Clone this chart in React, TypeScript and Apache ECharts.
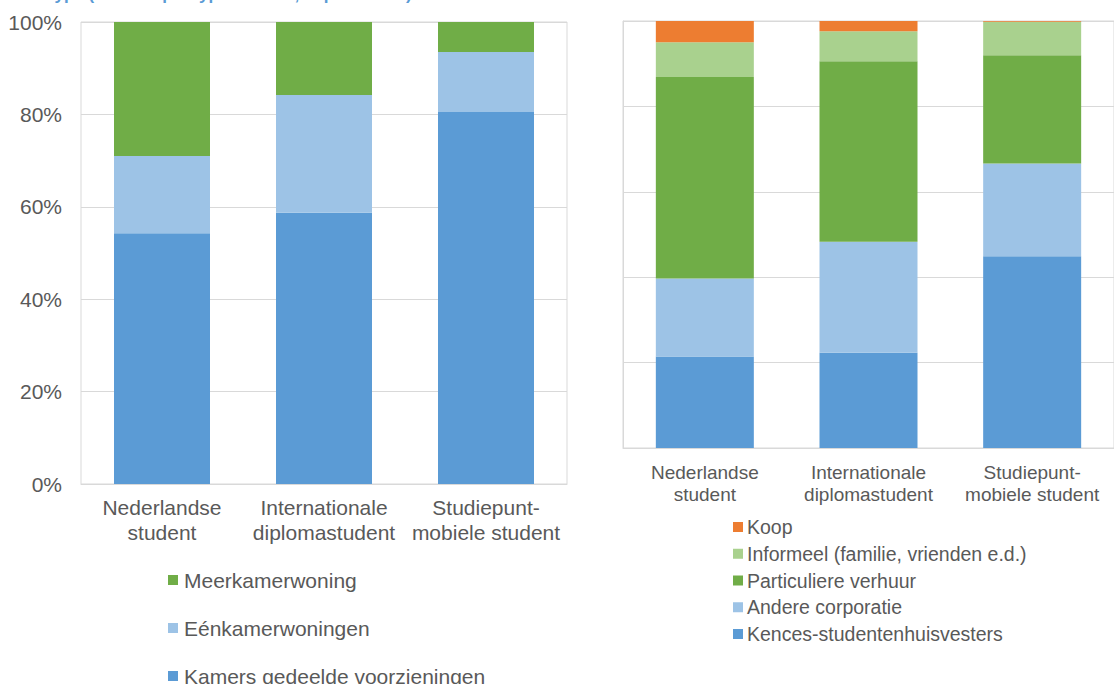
import React, { useEffect, useRef } from "react";
import * as echarts from "echarts";

const leftCategories = ["Nederlandse\nstudent", "Internationale\ndiplomastudent", "Studiepunt-\nmobiele student"];
const rightCategories = ["Nederlandse\nstudent", "Internationale\ndiplomastudent", "Studiepunt-\nmobiele student"];

const kamers = [54.3, 58.7, 80.5];
const eenkamer = [16.7, 25.5, 13.0];
const meerkamer = [29.0, 15.8, 6.5];

const kences = [21.4, 22.3, 44.9];
const andere = [18.3, 26.0, 21.7];
const particulier = [47.2, 42.3, 25.4];
const informeel = [8.1, 7.0, 7.8];
const koop = [5.0, 2.4, 0.2];

const yTicks = [0, 20, 40, 60, 80, 100];

const leftLegendNames = ["Meerkamerwoning", "Eénkamerwoningen", "Kamers gedeelde voorzieningen"];
const rightLegendNames = [
  "Koop",
  "Informeel (familie, vrienden e.d.)",
  "Particuliere verhuur",
  "Andere corporatie",
  "Kences-studentenhuisvesters",
];

const titleText = "Woontype (aandeel per type student, in procenten)";

const BLUE = "#5B9BD5";
const LIGHTBLUE = "#9DC3E6";
const GREEN = "#70AD47";
const LIGHTGREEN = "#A9D18E";
const ORANGE = "#ED7D31";
const TEXT = "#595959";
const GRID = "#D9D9D9";
const FONT = "'Liberation Sans', Arial, sans-serif";

export default function App() {
  const ref = useRef<HTMLDivElement>(null);
  useEffect(() => {
    if (!ref.current) return;
    const chart = echarts.init(ref.current, undefined, { renderer: "svg" });
    const barL = (name: string, data: number[], color: string) => ({
      name,
      type: "bar",
      stack: "L",
      xAxisIndex: 0,
      yAxisIndex: 0,
      barWidth: 96,
      data,
      itemStyle: { color },
    });
    const barR = (name: string, data: number[], color: string) => ({
      name,
      type: "bar",
      stack: "R",
      xAxisIndex: 1,
      yAxisIndex: 1,
      barWidth: 98,
      data,
      itemStyle: { color },
    });
    const leftLegendTops = [564, 612, 660];
    const leftLegends = leftLegendNames.map((n, i) => ({
      orient: "vertical",
      left: 163,
      top: leftLegendTops[i],
      itemWidth: 10,
      itemHeight: 10,
      icon: "rect",
      data: [n],
      textStyle: { color: TEXT, fontSize: 21, lineHeight: 22, fontFamily: FONT, padding: [0, 0, 0, 1] },
    }));
    chart.setOption({
      animation: false,
      textStyle: { fontFamily: FONT },
      graphic: [
        {
          type: "text",
          left: 2,
          top: -14,
          style: {
            text: titleText,
            fill: "#5B9BD5",
            font: "bold 17px " + FONT,
          },
        },
      ],
      grid: [
        { left: 81, top: 22, width: 486, height: 462, show: true, borderColor: GRID, borderWidth: 1 },
        { left: 623, top: 21, width: 504, height: 427, show: true, borderColor: GRID, borderWidth: 1 },
      ],
      xAxis: [
        {
          type: "category",
          gridIndex: 0,
          data: leftCategories,
          axisLine: { show: true, lineStyle: { color: GRID } },
          axisTick: { show: false },
          axisLabel: { interval: 0, color: TEXT, fontSize: 21, lineHeight: 25, margin: 11, fontFamily: FONT },
        },
        {
          type: "category",
          gridIndex: 1,
          data: rightCategories,
          axisLine: { show: true, lineStyle: { color: GRID } },
          axisTick: { show: false },
          axisLabel: { interval: 0, color: TEXT, fontSize: 19, lineHeight: 22, margin: 13, fontFamily: FONT },
        },
      ],
      yAxis: [
        {
          type: "value",
          gridIndex: 0,
          min: yTicks[0],
          max: yTicks[yTicks.length - 1],
          interval: 20,
          axisLine: { show: false },
          axisTick: { show: false },
          splitLine: { lineStyle: { color: GRID } },
          axisLabel: { formatter: "{value}%", color: TEXT, fontSize: 21, margin: 19, fontFamily: FONT },
        },
        {
          type: "value",
          gridIndex: 1,
          min: yTicks[0],
          max: yTicks[yTicks.length - 1],
          interval: 20,
          axisLine: { show: true, lineStyle: { color: GRID } },
          axisTick: { show: false },
          splitLine: { lineStyle: { color: GRID } },
          axisLabel: { show: false },
        },
      ],
      legend: [
        ...leftLegends,
        {
          orient: "vertical",
          left: 728,
          top: 512,
          itemWidth: 10,
          itemHeight: 10,
          itemGap: 6.75,
          icon: "rect",
          data: rightLegendNames,
          textStyle: { color: TEXT, fontSize: 19.5, lineHeight: 20, fontFamily: FONT, padding: [0, 0, 0, -1] },
        },
      ],
      series: [
        barL("Kamers gedeelde voorzieningen", kamers, BLUE),
        barL("Eénkamerwoningen", eenkamer, LIGHTBLUE),
        barL("Meerkamerwoning", meerkamer, GREEN),
        barR("Kences-studentenhuisvesters", kences, BLUE),
        barR("Andere corporatie", andere, LIGHTBLUE),
        barR("Particuliere verhuur", particulier, GREEN),
        barR("Informeel (familie, vrienden e.d.)", informeel, LIGHTGREEN),
        barR("Koop", koop, ORANGE),
      ],
    });
    return () => chart.dispose();
  }, []);
  return (
    <div
      ref={ref}
      style={{ position: "fixed", left: 0, top: 0, width: 1114, height: 684, background: "#fff" }}
    />
  );
}
